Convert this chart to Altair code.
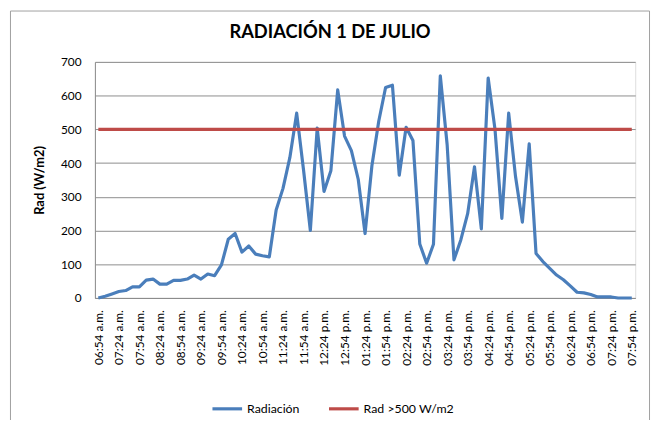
import altair as alt
import pandas as pd

# 10-minute readings from 06:54 a.m. to 07:54 p.m.
def fmt(m):
    h, mi = divmod(m, 60)
    suf = "a.m." if h < 12 else "p.m."
    h12 = h % 12
    if h12 == 0:
        h12 = 12
    return f"{h12:02d}:{mi:02d} {suf}"

times = [fmt(6 * 60 + 54 + 10 * i) for i in range(79)]
tick_labels = times[::3]

radiacion = [
    0, 5, 12, 19, 22, 33, 33, 53, 56, 41, 41, 52, 52, 56, 68, 56, 71, 66, 98, 174,
    191, 136, 154, 130, 125, 122, 261, 325, 416, 548,
    380, 200, 504, 316, 377, 617, 480, 437, 352, 191, 392, 524, 624, 631, 364, 506,
    467, 160, 103, 159, 659, 455, 113, 172, 250, 389, 205, 652, 500, 236, 548,
    360, 225, 457, 132, 108, 88, 68, 54, 36, 17, 15, 10, 3, 3, 3, 0, 0, 0,
]
limite = [500] * len(times)

series_names = ["Radiación", "Rad >500 W/m2"]
series_colors = ["#4A7EBB", "#BE4B48"]
title_text = "RADIACIÓN 1 DE JULIO"

df = pd.DataFrame(
    {"time": times + times,
     "value": radiacion + limite,
     "series": [series_names[0]] * len(times) + [series_names[1]] * len(times),
     "order": list(range(len(times))) * 2}
)

FONT = "Lato"
W, H = 547, 239

lines = alt.Chart(df).mark_line(strokeWidth=3.2, strokeJoin="round", strokeCap="butt").encode(
    x=alt.X("time:O", sort=times,
            scale=alt.Scale(type="point", padding=0.5),
            axis=alt.Axis(values=tick_labels, labelAngle=270, labelAlign="right",
                          labelBaseline="middle", labelPadding=12, ticks=False,
                          domainColor="#8c8c8c", domainWidth=1, labelFont=FONT,
                          labelFontSize=12, labelColor="#000000", title=None,
                          labelOverlap=False, grid=False)),
    y=alt.Y("value:Q",
            scale=alt.Scale(domain=[0, 700], nice=False),
            axis=alt.Axis(values=[0, 100, 200, 300, 400, 500, 600, 700], ticks=False,
                          grid=True, gridColor="#8c8c8c", gridWidth=1,
                          domainColor="#8c8c8c", labelFont=FONT, labelFontSize=12,
                          labelColor="#000000", labelPadding=14,
                          title="Rad (W/m2)", titleFont=FONT, titleFontSize=13,
                          titleFontWeight="bold", titleColor="#000000",
                          titleX=-56, titleY=H / 2, titleAngle=270,
                          titleBaseline="middle", titleAlign="center")),
    color=alt.Color("series:N", sort=series_names,
                    scale=alt.Scale(domain=series_names, range=series_colors),
                    legend=alt.Legend(orient="none", legendX=117, legendY=334,
                                      direction="horizontal", title=None,
                                      symbolType="stroke", symbolSize=900,
                                      symbolStrokeWidth=3.2, labelFont=FONT,
                                      labelFontSize=12.5, labelColor="#000000",
                                      columnPadding=22, labelOffset=3)),
    order="order:Q",
)

frame = alt.Chart(pd.DataFrame({"a": [0]})).mark_rect(
    fill=None, stroke="#a0a0a0", strokeWidth=1, clip=False
).encode(x=alt.value(-85.5), x2=alt.value(561.5), y=alt.value(-51.5), y2=alt.value(390))

title = alt.Chart(pd.DataFrame({"t": [title_text]})).mark_text(
    font=FONT, fontSize=18.5, fontWeight="bold", color="#000000",
    align="center", baseline="middle", clip=False
).encode(text="t:N", x=alt.value(238), y=alt.value(-30))

chart = alt.layer(frame, lines, title).properties(
    width=W, height=H,
    autosize=alt.AutoSizeParams(type="none"),
    padding={"left": 88, "top": 52, "right": 17, "bottom": 121},
).configure_view(stroke=None).configure(background="white")

chart.save("out.html", embed_options={"renderer": "svg", "actions": False})
